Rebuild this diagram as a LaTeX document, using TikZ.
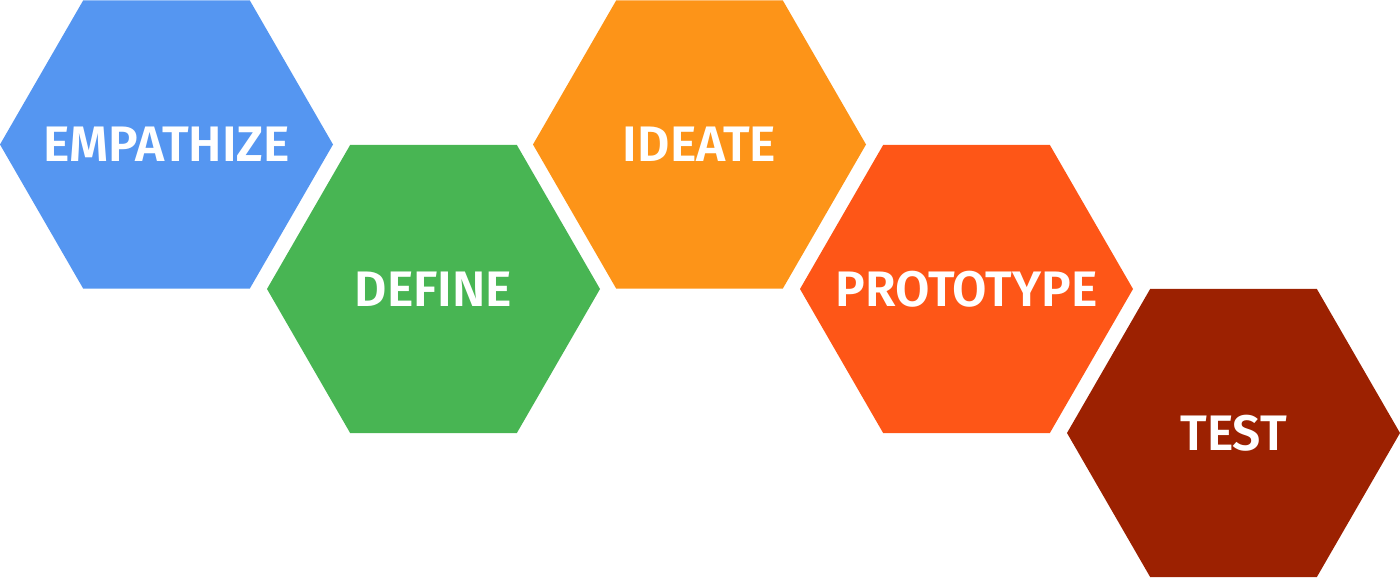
\documentclass[tikz,border=0pt]{standalone}
\usepackage{fontspec}
\setmainfont{Fira Sans}[BoldFont={Fira Sans SemiBold}]
\newfontfamily\stepfont{Fira Sans SemiBold}
\usetikzlibrary{shapes.geometric}

\definecolor{empblue}{HTML}{5596F1}
\definecolor{defgreen}{HTML}{48B553}
\definecolor{ideorange}{HTML}{FD9418}
\definecolor{proorange}{HTML}{FE5617}
\definecolor{testred}{HTML}{9C2101}

\begin{document}
\begin{tikzpicture}[
hexagon/.style={
	regular polygon,
	regular polygon sides=6,
	minimum size=3.33cm,
	inner sep=0pt,
	outer sep=0pt,
	draw=none
},
steplabel/.style={
	text=white,
	font=\stepfont\fontsize{14.2}{17}\selectfont,
	inner sep=0pt
}
]
\useasboundingbox (0,0) rectangle (14,5.77);

\foreach \x/\y/\c/\n/\l in {1.665/4.325/empblue/emp/EMPATHIZE,
	4.335/2.88/defgreen/def/DEFINE,
	6.995/4.325/ideorange/ide/IDEATE,
	9.665/2.88/proorange/pro/PROTOTYPE,
	12.335/1.44/testred/tst/TEST}
{
\node[hexagon,fill=\c] (h\n) at (\x,\y) {};
\node[steplabel] (t\n) at (h\n.center) {\l};
}

\end{tikzpicture}
\end{document}
